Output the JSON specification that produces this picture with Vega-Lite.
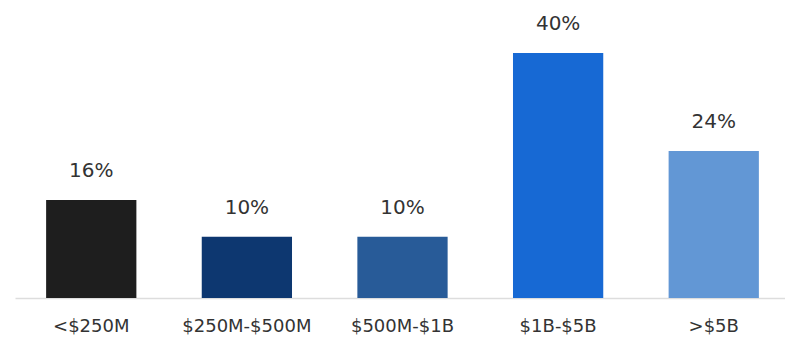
{
  "$schema": "https://vega.github.io/schema/vega-lite/v6.json",
  "width": 775,
  "height": 298,
  "padding": {"left": 15, "top": 0, "right": 0, "bottom": 5},
  "background": "#ffffff",
  "config": {"view": {"stroke": null}, "font": "DejaVu Sans"},
  "data": {"values": [
    {"range": "<$250M", "pct": 16, "label": "16%", "color": "#1e1e1e"},
    {"range": "$250M-$500M", "pct": 10, "label": "10%", "color": "#0d3770"},
    {"range": "$500M-$1B", "pct": 10, "label": "10%", "color": "#285b98"},
    {"range": "$1B-$5B", "pct": 40, "label": "40%", "color": "#1769d4"},
    {"range": ">$5B", "pct": 24, "label": "24%", "color": "#6297d5"}
  ]},
  "encoding": {
    "x": {"field": "range", "type": "nominal", "sort": null,
      "scale": {"paddingInner": 0.42, "paddingOuter": 0.2},
      "axis": {"title": null, "labelAngle": 0, "ticks": false, "domainColor": "#dddddd", "domainWidth": 1.5,
        "labelFontSize": 18, "labelColor": "#333333", "labelPadding": 19, "labelFont": "DejaVu Sans"}},
    "y": {"field": "pct", "type": "quantitative", "scale": {"domain": [0, 48.65], "nice": false, "zero": true}, "axis": null}
  },
  "layer": [
    {"mark": {"type": "bar"}, "encoding": {"color": {"field": "color", "type": "nominal", "scale": null}}},
    {"mark": {"type": "text", "dy": -29, "fontSize": 20, "color": "#333333", "font": "DejaVu Sans"},
     "encoding": {"text": {"field": "label"}}}
  ]
}
